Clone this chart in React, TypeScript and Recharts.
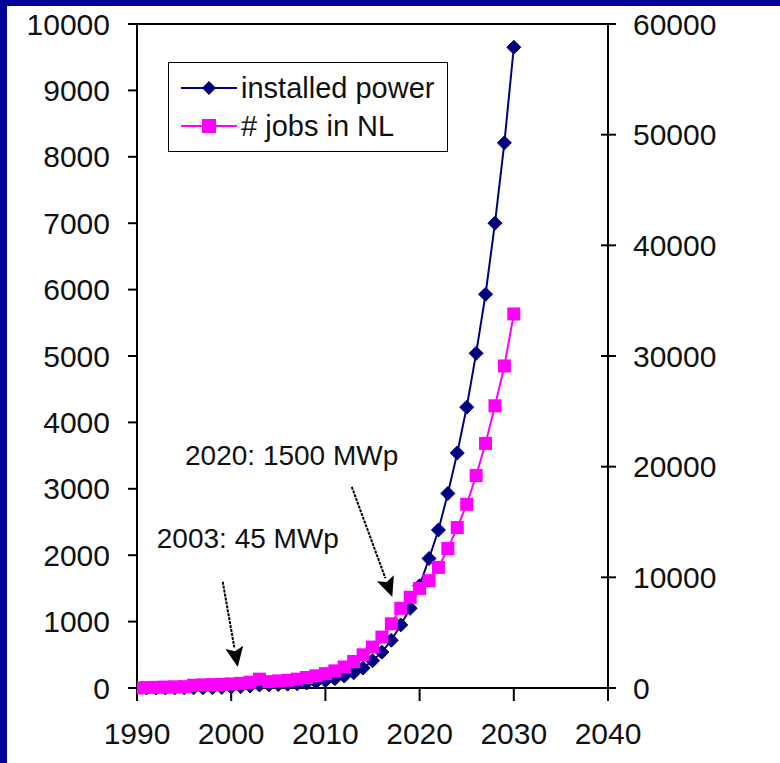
import React from "react";
import {
  LineChart,
  Line,
  XAxis,
  YAxis,
  Legend,
  ReferenceLine,
  ReferenceDot,
} from "recharts";

const years = [
  1990, 1991, 1992, 1993, 1994, 1995, 1996, 1997, 1998, 1999, 2000, 2001, 2002,
  2003, 2004, 2005, 2006, 2007, 2008, 2009, 2010, 2011, 2012, 2013, 2014, 2015,
  2016, 2017, 2018, 2019, 2020, 2021, 2022, 2023, 2024, 2025, 2026, 2027, 2028,
  2029, 2030,
];

// installed power, MWp (left axis)
const installedPower = [
  0.2, 0.3, 0.5, 1, 1.5, 2, 3, 4, 6, 9, 13, 20, 30, 45, 48, 52, 58, 65, 75, 90,
  110, 140, 180, 230, 300, 410, 540, 720, 950, 1200, 1540, 1950, 2380, 2930,
  3540, 4230, 5040, 5930, 7000, 8210, 9650,
];

// jobs in NL (right axis)
const jobsNL = [
  0, 40, 60, 80, 100, 120, 250, 280, 300, 330, 370, 420, 520, 800, 580, 640,
  700, 800, 950, 1100, 1300, 1550, 1900, 2400, 3000, 3700, 4600, 5800, 7200,
  8200, 9000, 9700, 10900, 12600, 14500, 16600, 19200, 22100, 25500, 29100,
  33800,
];

const xTicks = [1990, 2000, 2010, 2020, 2030, 2040];
const leftTicks = [0, 1000, 2000, 3000, 4000, 5000, 6000, 7000, 8000, 9000, 10000];
const rightTicks = [0, 10000, 20000, 30000, 40000, 50000, 60000];

const data = years.map((year, i) => ({
  year,
  power: installedPower[i],
  jobs: jobsNL[i],
}));

const FONT = '"Liberation Sans", Arial, sans-serif';
const NAVY = "#000080";
const MAGENTA = "#FF00FF";

const Diamond = (props: any) => {
  const { cx, cy, index } = props;
  if (cx == null || cy == null) return <g key={`dm-${index}`} />;
  const s = 7;
  return (
    <polygon
      key={`dm-${index}`}
      points={`${cx},${cy - s} ${cx + s},${cy} ${cx},${cy + s} ${cx - s},${cy}`}
      fill={NAVY}
      stroke={NAVY}
      strokeWidth={1}
      strokeLinejoin="round"
    />
  );
};

const Square = (props: any) => {
  const { cx, cy, index } = props;
  if (cx == null || cy == null) return <g key={`sq-${index}`} />;
  const s = 6.5;
  return (
    <rect
      key={`sq-${index}`}
      x={cx - s}
      y={cy - s}
      width={s * 2}
      height={s * 2}
      fill={MAGENTA}
    />
  );
};

// right axis ticks cross the axis line in the original
const RightTick = (props: any) => {
  const { x, y, payload } = props;
  return (
    <g>
      <line x1={x - 32} y1={y} x2={x - 24} y2={y} stroke="#000" strokeWidth={2} />
      <text
        x={x}
        y={y}
        dy="0.355em"
        textAnchor="start"
        fill="#111"
        fontSize={30}
        fontFamily={FONT}
      >
        {payload.value}
      </text>
    </g>
  );
};

const Arrow = (props: any) => {
  const { x1, y1, x2, y2 } = props;
  if ([x1, y1, x2, y2].some((v) => v == null || isNaN(v))) return <g />;
  const dx = x2 - x1;
  const dy = y2 - y1;
  const len = Math.sqrt(dx * dx + dy * dy);
  const ux = dx / len;
  const uy = dy / len;
  const hl = 20;
  const hw = 9;
  const bx = x2 - ux * hl;
  const by = y2 - uy * hl;
  return (
    <g>
      <line
        x1={x1}
        y1={y1}
        x2={bx}
        y2={by}
        stroke="#000"
        strokeWidth={2}
        strokeDasharray="3 1"
      />
      <polygon
        points={`${x2},${y2} ${bx - uy * hw},${by + ux * hw} ${bx + ux * 4},${by + uy * 4} ${bx + uy * hw},${by - ux * hw}`}
        fill="#000"
      />
    </g>
  );
};

const note = (text: string) => (props: any) =>
  (
    <text
      x={props.cx}
      y={props.cy}
      fontFamily={FONT}
      fontSize={28}
      fill="#111"
    >
      {text}
    </text>
  );

const LegendBox = () => (
  <div
    style={{
      border: "1.5px solid #000",
      background: "#fff",
      width: 280,
      height: 90,
      boxSizing: "border-box",
      fontFamily: FONT,
      fontSize: 29,
      color: "#111",
      paddingTop: 6,
    }}
  >
    {[
      { label: "installed power", color: NAVY, shape: "diamond" },
      { label: "# jobs in NL", color: MAGENTA, shape: "square" },
    ].map((item) => (
      <div
        key={item.label}
        style={{ display: "flex", alignItems: "center", height: 38 }}
      >
        <svg width={72} height={20} style={{ marginLeft: 10, flex: "none" }}>
          <line x1={2} y1={10} x2={58} y2={10} stroke={item.color} strokeWidth={2} />
          {item.shape === "diamond" ? (
            <polygon points="30,3 37,10 30,17 23,10" fill={item.color} />
          ) : (
            <rect x={23} y={3} width={14} height={14} fill={item.color} />
          )}
        </svg>
        <span style={{ marginLeft: -10, whiteSpace: "nowrap" }}>{item.label}</span>
      </div>
    ))}
  </div>
);

const tickStyle = { fill: "#111", fontSize: 30, fontFamily: FONT };

export default function App() {
  return (
    <div
      style={{
        position: "absolute",
        left: 0,
        top: 0,
        width: 780,
        height: 763,
        background: "#fff",
        overflow: "hidden",
      }}
    >
      <LineChart
        width={780}
        height={763}
        data={data}
        margin={{ top: 24, right: 0, bottom: 0, left: 0 }}
      >
        <XAxis
          dataKey="year"
          type="number"
          domain={[1990, 2040]}
          ticks={xTicks}
          allowDataOverflow
          height={75}
          tick={tickStyle}
          tickSize={13}
          tickMargin={22}
          axisLine={{ stroke: "#000", strokeWidth: 2 }}
          tickLine={{ stroke: "#000", strokeWidth: 2 }}
        />
        <YAxis
          yAxisId="left"
          domain={[0, 10000]}
          ticks={leftTicks}
          width={137}
          tick={tickStyle}
          tickSize={9}
          tickMargin={18}
          axisLine={{ stroke: "#000", strokeWidth: 2 }}
          tickLine={{ stroke: "#000", strokeWidth: 2 }}
        />
        <YAxis
          yAxisId="right"
          orientation="right"
          domain={[0, 60000]}
          ticks={rightTicks}
          width={172}
          tick={(p: any) => <RightTick {...p} />}
          tickSize={8}
          tickMargin={17}
          axisLine={{ stroke: "#000", strokeWidth: 2 }}
          tickLine={{ stroke: "#000", strokeWidth: 2 }}
        />
        <ReferenceLine yAxisId="left" y={10000} stroke="#000" strokeWidth={2} />
        <Legend
          layout="horizontal"
          verticalAlign="middle"
          align="center"
          content={() => <LegendBox />}
          wrapperStyle={{ left: 168, top: 62, width: 280, height: 90 }}
        />
        <Line
          yAxisId="left"
          dataKey="power"
          name="installed power"
          type="linear"
          stroke={NAVY}
          strokeWidth={2}
          dot={(p: any) => <Diamond {...p} />}
          activeDot={false}
          isAnimationActive={false}
        />
        <Line
          yAxisId="right"
          dataKey="jobs"
          name="# jobs in NL"
          type="linear"
          stroke={MAGENTA}
          strokeWidth={2}
          dot={(p: any) => <Square {...p} />}
          activeDot={false}
          isAnimationActive={false}
        />
        <ReferenceLine
          yAxisId="left"
          segment={[
            { x: 1999.1, y: 1600 },
            { x: 2000.7, y: 316 },
          ]}
          ifOverflow="visible"
          shape={(p: any) => <Arrow {...p} />}
        />
        <ReferenceLine
          yAxisId="left"
          segment={[
            { x: 2012.8, y: 3030 },
            { x: 2017.1, y: 1370 },
          ]}
          ifOverflow="visible"
          shape={(p: any) => <Arrow {...p} />}
        />
        <ReferenceDot
          yAxisId="left"
          x={1995.1}
          y={3360}
          r={0}
          shape={note("2020: 1500 MWp")}
        />
        <ReferenceDot
          yAxisId="left"
          x={1992.1}
          y={2110}
          r={0}
          shape={note("2003: 45 MWp")}
        />
      </LineChart>
      <div
        style={{
          position: "absolute",
          left: 0,
          top: 0,
          width: 780,
          height: 6,
          background: "#000099",
        }}
      />
      <div
        style={{
          position: "absolute",
          left: 0,
          top: 0,
          width: 7,
          height: 763,
          background: "#000099",
        }}
      />
    </div>
  );
}
